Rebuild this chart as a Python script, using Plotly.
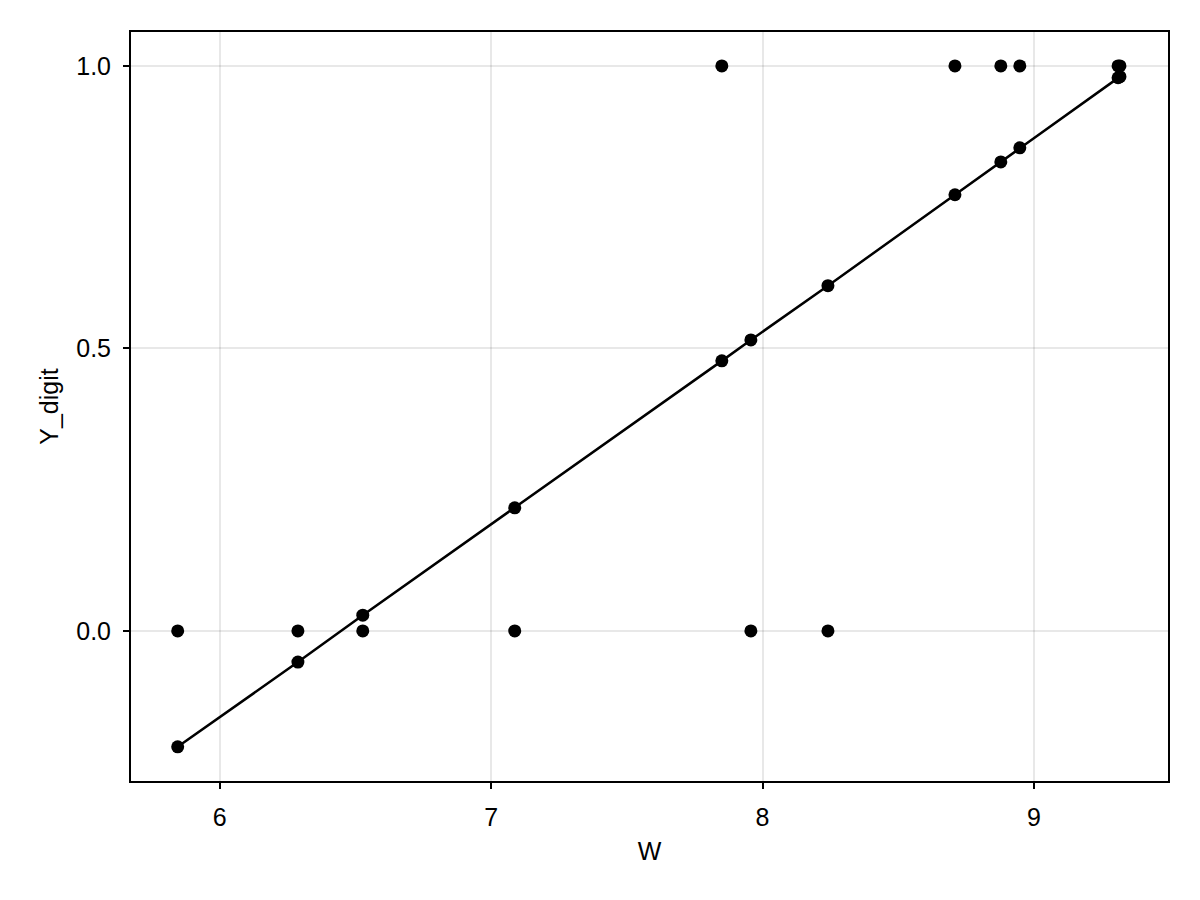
import plotly.graph_objects as go

W = [5.845, 6.288, 6.527, 7.087, 7.850, 7.957, 8.241, 8.709, 8.878, 8.948, 9.310, 9.317]
Y_digit = [0, 0, 0, 0, 1, 0, 0, 1, 1, 1, 1, 1]
Y_fit = [-0.205, -0.055, 0.028, 0.218, 0.478, 0.515, 0.611, 0.772, 0.830, 0.855, 0.979, 0.981]

fig = go.Figure()
fig.add_trace(go.Scatter(x=W, y=Y_digit, mode="markers",
                         marker=dict(color="black", size=13), showlegend=False))
fig.add_trace(go.Scatter(x=W, y=Y_fit, mode="lines+markers",
                         line=dict(color="black", width=2.5),
                         marker=dict(color="black", size=13), showlegend=False))

font = "Liberation Sans, Arial, Helvetica, sans-serif"
axis_common = dict(showline=True, linecolor="black", linewidth=2, mirror=True,
                   showgrid=True, gridcolor="rgba(0,0,0,0.09)", gridwidth=1.5,
                   zeroline=False, ticks="outside", ticklen=6, tickwidth=1.5,
                   tickcolor="black", ticklabelstandoff=7,
                   tickfont=dict(size=25, color="black", family=font),
                   title_font=dict(size=25, color="black", family=font))
fig.update_xaxes(range=[5.673, 9.494], tickvals=[6, 7, 8, 9], ticktext=["6", "7", "8", "9"],
                 title_text="W", title_standoff=12, **axis_common)
fig.update_yaxes(range=[-0.2655, 1.060], tickvals=[0, 0.5, 1.0], ticktext=["0.0", "0.5", "1.0"],
                 title_text="Y_digit", title_standoff=10, **axis_common)
fig.update_layout(width=1200, height=900, plot_bgcolor="white", paper_bgcolor="white",
                  margin=dict(l=123, r=40, t=24, b=127), font=dict(family=font))
fig.write_html("out.html")
